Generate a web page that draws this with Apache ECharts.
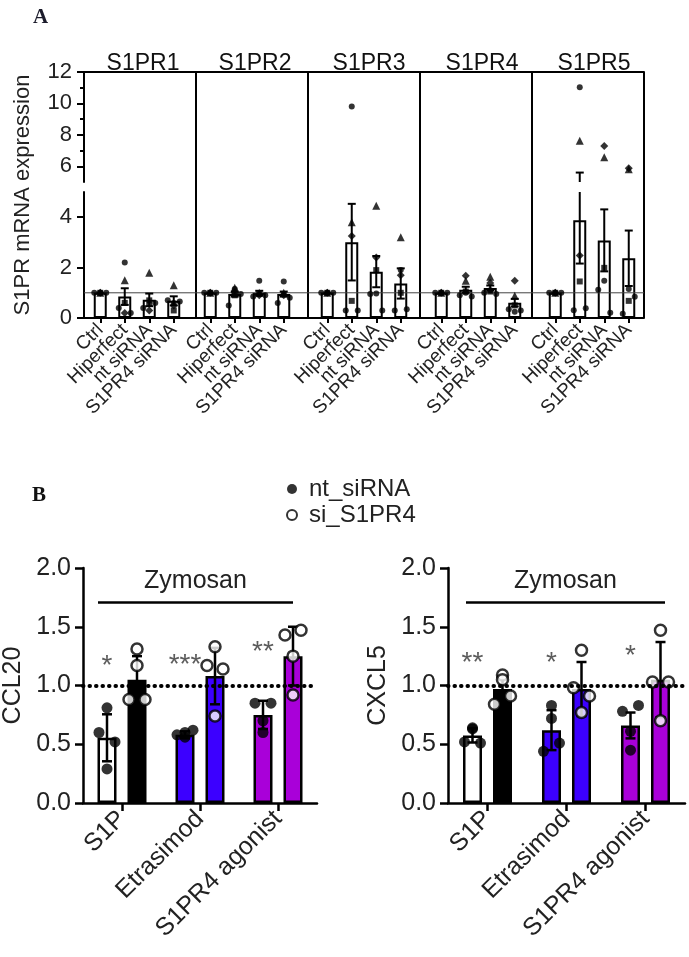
<!DOCTYPE html>
<html>
<head>
<meta charset="utf-8">
<script src="https://cdn.jsdelivr.net/npm/echarts@6.0.0/dist/echarts.min.js"></script>
<style>
html, body { margin: 0; padding: 0; background: #fff; }
#chart { width: 689px; height: 957px; }
</style>
</head>
<body>
<div id="chart"></div>
<script>
// ---------- panel A : S1PR mRNA expression ----------
const genes = ['S1PR1', 'S1PR2', 'S1PR3', 'S1PR4', 'S1PR5'];
const groupsA = ['Ctrl', 'Hiperfect', 'nt siRNA', 'S1PR4 siRNA'];
const donorSymbols = ['circle', 'triangle', 'diamond', 'rect', 'circle', 'circle'];
const refLevelA = 1;
const breakA = 5;            // y axis is broken at 5
const tickLowA = [0, 2, 4];
const tickUpA = [6, 8, 10, 12];
const minorUpA = [7, 9, 11];

const meanS1PR1 = [1, 0.85, 0.72, 0.68];
const semS1PR1 = [0, 0.33, 0.25, 0.18];
const ptsS1PR1 = [[1, 1, 1, 1, 1, 1], [2.2, 1.5, 0.2, 0.6, 0.4, 0.2], [0.55, 1.8, 0.3, 0.7, 0.4, 0.6], [0.6, 1.3, 0.5, 0.3, 0.7, 0.65]];

const meanS1PR2 = [1, 0.95, 1.0, 0.95];
const semS1PR2 = [0, 0.1, 0.08, 0.1];
const ptsS1PR2 = [[1, 1, 1, 1, 1, 1], [1.15, 1.2, 1.0, 0.9, 0.5, 0.95], [1.48, 1.0, 0.9, 0.95, 0.85, 0.9], [1.45, 1.0, 0.9, 0.95, 0.6, 0.8]];

const meanS1PR3 = [1, 3.01, 1.84, 1.37];
const semS1PR3 = [0, 1.52, 0.62, 0.6];
const ptsS1PR3 = [[1, 1, 1, 1, 1, 1], [9.8, 3.8, 3.25, 0.68, 0.3, 0.3], [0.97, 4.45, 2.4, 1.9, 0.95, 0.3], [1.9, 3.2, 1.7, 1.0, 0.3, 0.35]];

const meanS1PR4 = [1, 1.12, 1.19, 0.61];
const semS1PR4 = [0, 0.12, 0.1, 0.15];
const ptsS1PR4 = [[1, 1, 1, 1, 1, 1], [1.0, 1.48, 1.68, 1.05, 0.9, 0.85], [1.1, 1.64, 1.39, 1.05, 1.0, 0.95], [0.25, 0.88, 1.48, 0.5, 0.35, 0.3]];

const meanS1PR5 = [1, 3.88, 3.08, 2.37];
const semS1PR5 = [0, 1.72, 1.23, 1.1];
const ptsS1PR5 = [[1, 1, 1, 1, 1, 1], [11.03, 7.63, 2.48, 1.45, 0.31, 0.39], [1.48, 6.57, 7.29, 1.99, 1.12, 0.21], [1.15, 5.81, 5.87, 0.68, 0.17, 0.84]];

// ---------- panel B : CCL20 / CXCL5 ----------
const treatments = ['S1P', 'Etrasimod', 'S1PR4 agonist'];
const refLevelB = 1;
const zymosanLevel = 1.71;

const ccl20Nt = [0.555, 0.58, 0.75];
const ccl20NtSd = [0.2, 0.03, 0.12];
const ccl20NtPts = [[0.81, 0.60, 0.52, 0.29], [0.60, 0.58, 0.62, 0.56], [0.70, 0.85, 0.85, 0.60]];
const ccl20Si = [1.05, 1.08, 1.25];
const ccl20SiSd = [0.2, 0.24, 0.25];
const ccl20SiPts = [[1.31, 0.88, 0.88, 1.17], [1.33, 1.17, 1.14, 0.74], [1.25, 1.43, 1.47, 0.92]];
const ccl20Stars = ['*', '***', '**'];
const ccl20StarY = [1.16, 1.17, 1.28];

const cxcl5Nt = [0.575, 0.62, 0.66];
const cxcl5NtSd = [0.06, 0.17, 0.11];
const cxcl5NtPts = [[0.64, 0.52, 0.51, 0.63], [0.83, 0.44, 0.51, 0.72], [0.61, 0.78, 0.83, 0.45]];
const cxcl5Si = [0.97, 0.97, 1.05];
const cxcl5SiSd = [0.11, 0.23, 0.32];
const cxcl5SiPts = [[1.09, 0.84, 0.91, 1.05], [1.30, 0.98, 0.91, 0.77], [1.47, 1.03, 1.03, 0.70]];
const cxcl5Stars = ['**', '*', '*'];
const cxcl5StarY = [1.19, 1.19, 1.25];

// ---------- styles / layout ----------
const font = 'Liberation Sans, Arial, sans-serif';
const blue = '#3c00ff';
const purple = '#a900d9';
const ntColors = ['#ffffff', blue, purple];
const siColors = ['#000000', blue, purple];
const panelLeftA = [88, 198, 315, 429, 543];
const panelCenterA = [138, 250, 364, 477, 589];
const symbolSizeA = { circle: 6, triangle: 8, diamond: 8, rect: 6 };
const jitterA = [0, 0, 0, 0, -6, 6];
const jitterB = [0, -1, 1, 0];

const meansA = [meanS1PR1, meanS1PR2, meanS1PR3, meanS1PR4, meanS1PR5];
const semsA = [semS1PR1, semS1PR2, semS1PR3, semS1PR4, semS1PR5];
const ptsA = [ptsS1PR1, ptsS1PR2, ptsS1PR3, ptsS1PR4, ptsS1PR5];

const grid = [], xAxis = [], yAxis = [], series = [];
const addGrid = g => (grid.push(g), grid.length - 1);
const addX = a => (xAxis.push(a), xAxis.length - 1);
const addY = a => (yAxis.push(a), yAxis.length - 1);
const black = w => ({ color: '#000', width: w });

// error bar: vertical line with caps, shifted by offset px
function errRender(offset, cap, lw) {
  return function (params, api) {
    const i = api.value(0), m = api.value(1), e = api.value(2);
    const top = api.coord([i, m + e]);
    const bot = api.coord([i, m - e]);
    const cx = top[0] + offset;
    const style = { stroke: '#000', lineWidth: lw };
    return {
      type: 'group',
      children: [
        { type: 'line', shape: { x1: cx, y1: top[1], x2: cx, y2: bot[1] }, style },
        { type: 'line', shape: { x1: cx - cap, y1: top[1], x2: cx + cap, y2: top[1] }, style },
        { type: 'line', shape: { x1: cx - cap, y1: bot[1], x2: cx + cap, y2: bot[1] }, style }
      ]
    };
  };
}

// ---- panel A frame (top line, bottom line, separators) ----
const gFrame = addGrid({ left: 84, top: 72, width: 560, height: 246 });
addX({
  gridIndex: gFrame, type: 'value', min: 0, max: 5, interval: 1, position: 'bottom',
  axisLine: { show: true, onZero: false, lineStyle: black(2) },
  axisTick: { show: false }, axisLabel: { show: false },
  splitLine: { show: true, showMinLine: false, lineStyle: black(2) }
});
addX({
  gridIndex: gFrame, type: 'value', min: 0, max: 5, position: 'top',
  axisLine: { show: true, onZero: false, lineStyle: black(2) },
  axisTick: { show: false }, axisLabel: { show: false }, splitLine: { show: false }
});
addY({
  gridIndex: gFrame, type: 'value', min: 0, max: 1,
  axisLine: { show: false }, axisTick: { show: false }, axisLabel: { show: false }, splitLine: { show: false },
  name: 'S1PR mRNA expression', nameLocation: 'middle', nameGap: 50,
  nameTextStyle: { fontSize: 22, color: '#222', fontFamily: font }
});

// reference line at 1 across the whole panel
const gRef = addGrid({ left: 84, top: 192, width: 560, height: 126 });
const xRef = addX({ gridIndex: gRef, type: 'value', min: 0, max: 1, show: false });
const yRef = addY({ gridIndex: gRef, type: 'value', min: 0, max: breakA, show: false });
series.push({
  type: 'line', xAxisIndex: xRef, yAxisIndex: yRef, data: [[0, refLevelA], [1, refLevelA]],
  symbol: 'none', lineStyle: { color: '#444', width: 1 }, z: 3, silent: true
});

genes.forEach((gene, p) => {
  const means = meansA[p], sems = semsA[p], pts = ptsA[p];
  const gLow = addGrid({ left: panelLeftA[p], top: 192, width: 98, height: 126 });
  const gUp = addGrid({ left: panelLeftA[p], top: 72, width: 98, height: 110 });
  const xLow = addX({
    gridIndex: gLow, type: 'category', data: groupsA,
    axisLine: { show: false },
    axisTick: { show: true, alignWithLabel: true, length: 5, lineStyle: black(2) },
    axisLabel: { rotate: 45, interval: 0, margin: 9, fontSize: 19, color: '#222', fontFamily: font },
    splitLine: { show: false }
  });
  const xUp = addX({ gridIndex: gUp, type: 'category', data: groupsA, show: false });
  const yLow = addY({
    gridIndex: gLow, type: 'value', min: 0, max: breakA, show: p === 0, offset: 4, position: 'left',
    axisLine: { show: true, onZero: false, lineStyle: black(2) },
    axisTick: { show: true, length: 7, customValues: tickLowA, lineStyle: black(2) },
    axisLabel: { customValues: tickLowA, fontSize: 22, margin: 12, color: '#222', fontFamily: font },
    splitLine: { show: false }
  });
  const yUp = addY({
    gridIndex: gUp, type: 'value', min: breakA, max: 12, show: p === 0, offset: 4, position: 'left',
    axisLine: { show: true, onZero: false, lineStyle: black(2) },
    axisTick: { show: true, length: 7, customValues: tickUpA, lineStyle: black(2) },
    axisLabel: { customValues: tickUpA, fontSize: 22, margin: 12, color: '#222', fontFamily: font },
    splitLine: { show: false }
  });
  if (p === 0) {
    addY({
      gridIndex: gUp, type: 'value', min: breakA, max: 12, offset: 4, position: 'left',
      axisLine: { show: false }, axisLabel: { show: false }, splitLine: { show: false },
      axisTick: { show: true, length: 4, customValues: minorUpA, lineStyle: black(2) }
    });
  }

  series.push({
    type: 'bar', xAxisIndex: xLow, yAxisIndex: yLow, data: means, barWidth: 13,
    itemStyle: { color: '#fff', borderColor: '#000', borderWidth: 2 }, z: 2, silent: true
  });

  const errData = means.map((m, i) => [i, m, sems[i]]).filter(d => d[2] > 0);
  series.push({
    type: 'custom', xAxisIndex: xLow, yAxisIndex: yLow, data: errData,
    renderItem: errRender(0, 4, 2), clip: true, z: 4, silent: true
  });
  const errUp = errData.filter(d => d[1] + d[2] > breakA);
  if (errUp.length) {
    series.push({
      type: 'custom', xAxisIndex: xUp, yAxisIndex: yUp, data: errUp,
      renderItem: errRender(0, 4, 2), clip: true, z: 4, silent: true
    });
  }

  const low = [], up = [];
  pts.forEach((arr, i) => arr.forEach((v, d) => {
    const sym = donorSymbols[d];
    const item = { value: [i, v], symbol: sym, symbolSize: symbolSizeA[sym], symbolOffset: [jitterA[d], 0] };
    (v > breakA ? up : low).push(item);
  }));
  series.push({ type: 'scatter', xAxisIndex: xLow, yAxisIndex: yLow, data: low, itemStyle: { color: '#000' }, z: 5, silent: true });
  if (up.length) {
    series.push({ type: 'scatter', xAxisIndex: xUp, yAxisIndex: yUp, data: up, itemStyle: { color: '#000' }, z: 5, silent: true });
  }
});

// ---- panel B ----
const barW = 19, barGapPx = 11;
const shiftB = (barW + barGapPx) / 2;

function buildB(cfg) {
  const g = addGrid({ left: cfg.left, top: 568, width: 237, height: 235 });
  const x = addX({
    gridIndex: g, type: 'category', data: treatments,
    axisLine: { show: true, onZero: false, lineStyle: black(2.5) },
    axisTick: { show: true, alignWithLabel: true, length: 8, lineStyle: black(2.5) },
    axisLabel: { rotate: 45, interval: 0, margin: 12, fontSize: 25, color: '#222', fontFamily: font }
  });
  const y = addY({
    gridIndex: g, type: 'value', min: 0, max: 2, interval: 0.5,
    axisLine: { show: true, onZero: false, lineStyle: black(2.5) },
    axisTick: { show: true, length: 8, lineStyle: black(2.5) },
    axisLabel: { formatter: v => v.toFixed(1), fontSize: 25, margin: 12, color: '#222', fontFamily: font },
    splitLine: { show: false },
    name: cfg.name, nameLocation: 'middle', nameGap: 57,
    nameTextStyle: { fontSize: 25, color: '#222', fontFamily: font }
  });

  series.push({
    type: 'bar', name: cfg.name + ' nt', xAxisIndex: x, yAxisIndex: y,
    data: cfg.nt.map((v, i) => ({ value: v, itemStyle: { color: ntColors[i] } })),
    barWidth: barW, barGap: (barGapPx / barW * 100) + '%',
    itemStyle: { borderColor: '#000', borderWidth: 2.5 }, z: 2, silent: true,
    markLine: {
      silent: true, symbol: 'none',
      data: [[{ x: cfg.zx[0], yAxis: zymosanLevel }, { x: cfg.zx[1], yAxis: zymosanLevel }]],
      lineStyle: { type: 'solid', width: 2.5, color: '#000' },
      label: { show: true, position: 'middle', formatter: 'Zymosan', distance: 8, fontSize: 25, color: '#222', fontFamily: font }
    }
  });
  series.push({
    type: 'bar', name: cfg.name + ' si', xAxisIndex: x, yAxisIndex: y,
    data: cfg.si.map((v, i) => ({ value: v, itemStyle: { color: siColors[i] } })),
    barWidth: barW, barGap: (barGapPx / barW * 100) + '%',
    itemStyle: { borderColor: '#000', borderWidth: 2.5 }, z: 2, silent: true,
    markLine: {
      silent: true, symbol: 'none', data: [{ yAxis: refLevelB }],
      lineStyle: { type: [0.5, 6], cap: 'round', width: 4, color: '#000' },
      label: { show: false }
    }
  });

  series.push({
    type: 'custom', xAxisIndex: x, yAxisIndex: y,
    data: cfg.nt.map((m, i) => [i, m, cfg.ntSd[i]]),
    renderItem: errRender(-shiftB, 5, 2.5), z: 3, silent: true
  });
  series.push({
    type: 'custom', xAxisIndex: x, yAxisIndex: y,
    data: cfg.si.map((m, i) => [i, m, cfg.siSd[i]]),
    renderItem: errRender(shiftB, 5, 2.5), z: 3, silent: true
  });

  const ptItems = (arrs, shift) => arrs.flatMap((arr, i) => arr.map((v, k) => ({
    value: [i, v], symbolOffset: [shift + jitterB[k] * 8, 0]
  })));
  series.push({
    type: 'scatter', name: 'nt_siRNA', xAxisIndex: x, yAxisIndex: y,
    data: ptItems(cfg.ntPts, -shiftB), symbol: 'circle', symbolSize: 11,
    itemStyle: { color: '#000' }, z: 4, silent: true
  });
  series.push({
    type: 'scatter', name: 'si_S1PR4', xAxisIndex: x, yAxisIndex: y,
    data: ptItems(cfg.siPts, shiftB), symbol: 'circle', symbolSize: 11,
    itemStyle: { color: '#fff', borderColor: '#000', borderWidth: 2.5 }, z: 4, silent: true
  });

  series.push({
    type: 'scatter', xAxisIndex: x, yAxisIndex: y,
    data: cfg.stars.map((s, i) => ({ value: [i, cfg.starY[i]], name: s })),
    symbolSize: 1, itemStyle: { color: 'rgba(0,0,0,0)' }, z: 4, silent: true,
    label: { show: true, position: 'inside', offset: [-shiftB, 0], formatter: p => p.name, fontSize: 28, color: '#333', fontFamily: font }
  });
}

buildB({
  left: 80, name: 'CCL20', zx: [98, 293],
  nt: ccl20Nt, ntSd: ccl20NtSd, ntPts: ccl20NtPts,
  si: ccl20Si, siSd: ccl20SiSd, siPts: ccl20SiPts,
  stars: ccl20Stars, starY: ccl20StarY
});
buildB({
  left: 448, name: 'CXCL5', zx: [466, 665],
  nt: cxcl5Nt, ntSd: cxcl5NtSd, ntPts: cxcl5NtPts,
  si: cxcl5Si, siSd: cxcl5SiSd, siPts: cxcl5SiPts,
  stars: cxcl5Stars, starY: cxcl5StarY
});

const titles = [
  { text: 'A', left: 28, top: 2, textStyle: { fontFamily: 'Liberation Serif, serif', fontWeight: 'bold', fontSize: 21, color: '#1b1b2b' } },
  { text: 'B', left: 27, top: 480, textStyle: { fontFamily: 'Liberation Serif, serif', fontWeight: 'bold', fontSize: 21, color: '#111' } }
].concat(genes.map((g, p) => ({
  text: g, left: panelCenterA[p], top: 47, textAlign: 'center',
  textStyle: { fontSize: 23, fontWeight: 'normal', color: '#111', fontFamily: font }
})));

const myChart = echarts.init(document.getElementById('chart'));
myChart.setOption({
  backgroundColor: '#fff',
  animation: false,
  title: titles,
  legend: {
    left: 281, top: 472, orient: 'vertical', itemWidth: 24, itemHeight: 10, itemGap: 2,
    selectedMode: false,
    data: [{ name: 'nt_siRNA', icon: 'circle' }, { name: 'si_S1PR4', icon: 'circle' }],
    textStyle: { fontSize: 24, color: '#222', fontFamily: font }
  },
  grid, xAxis, yAxis, series
});
</script>
</body>
</html>
